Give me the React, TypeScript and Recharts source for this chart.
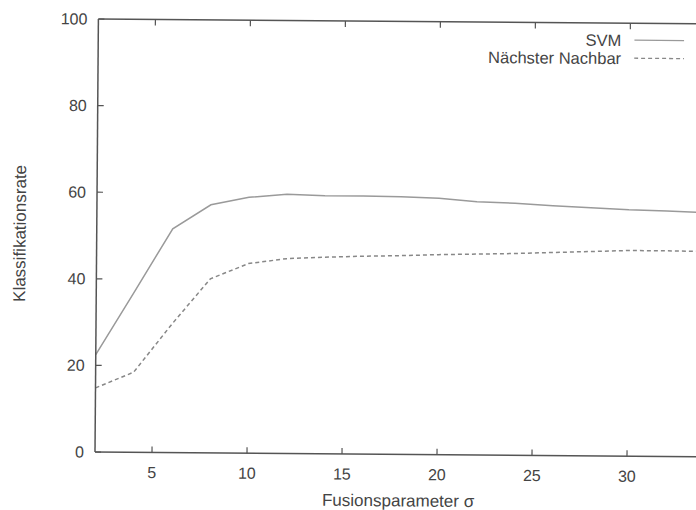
import { Label, Legend, Line, LineChart, ReferenceLine, XAxis, YAxis } from 'recharts';

const sigma = [2, 4, 6, 8, 10, 12, 14, 16, 18, 20, 22, 24, 26, 28, 30, 32, 34];
const svm = [22.5, 37, 51.7, 57.3, 59.1, 59.9, 59.6, 59.6, 59.5, 59.2, 58.5, 58.2, 57.7, 57.3, 56.9, 56.7, 56.4];
const nearest = [14.8, 18.5, 29.7, 40.2, 43.8, 45, 45.4, 45.7, 45.9, 46.2, 46.4, 46.6, 46.9, 47.2, 47.5, 47.5, 47.4];
const xTicks = [5, 10, 15, 20, 25, 30];
const yTicks = [0, 20, 40, 60, 80, 100];
const seriesOrder = ['svm', 'nn'];

const data = sigma.map((s, i) => ({ sigma: s, svm: svm[i], nn: nearest[i] }));

const AXIS = '#555';
const TEXT = '#444';
const PLOT_LEFT = 95;
const PLOT_TOP = 19;
const PLOT_BOTTOM = 452;

const seriesStyle: Record<string, { stroke: string; dash?: string }> = {
  svm: { stroke: '#9a9a9a' },
  nn: { stroke: '#888', dash: '4 3' },
};

function XTick({ x, payload }: any) {
  return (
    <g>
      <line x1={x} x2={x} y1={PLOT_BOTTOM} y2={PLOT_BOTTOM - 6} stroke={AXIS} strokeWidth={1.2} />
      <line x1={x} x2={x} y1={PLOT_TOP} y2={PLOT_TOP + 6} stroke={AXIS} strokeWidth={1.2} />
      <text x={x} y={PLOT_BOTTOM + 20} dy="0.35em" textAnchor="middle" fontSize={16} fill={TEXT}>
        {payload.value}
      </text>
    </g>
  );
}

function YTick({ y, payload }: any) {
  return (
    <g>
      <line x1={PLOT_LEFT} x2={PLOT_LEFT + 6} y1={y} y2={y} stroke={AXIS} strokeWidth={1.2} />
      <text x={PLOT_LEFT - 11} y={y} dy="0.35em" textAnchor="end" fontSize={16} fill={TEXT}>
        {payload.value}
      </text>
    </g>
  );
}

function LegendBox({ payload }: any) {
  const items = [...(payload || [])].sort(
    (a: any, b: any) => seriesOrder.indexOf(a.dataKey) - seriesOrder.indexOf(b.dataKey),
  );
  return (
    <div style={{ fontSize: 16.5, color: TEXT }}>
      {items.map((item: any) => {
        const st = seriesStyle[item.dataKey] || { stroke: '#888' };
        return (
          <div
            key={item.value}
            style={{ display: 'flex', justifyContent: 'flex-end', alignItems: 'center', height: 18 }}
          >
            <span style={{ lineHeight: '18px' }}>{item.value}</span>
            <svg width={50} height={6} style={{ marginLeft: 13 }}>
              <line x1={0} x2={50} y1={3} y2={3} stroke={st.stroke} strokeWidth={1.3} strokeDasharray={st.dash} />
            </svg>
          </div>
        );
      })}
    </div>
  );
}

export default function App() {
  return (
    <div
      style={{
        position: 'absolute',
        left: 0,
        top: 0,
        width: 696,
        height: 510,
        overflow: 'hidden',
        background: '#fff',
        fontFamily: '"Liberation Sans", Arial, sans-serif',
      }}
    >
      <div style={{ transform: 'rotate(0.45deg)', transformOrigin: '95px 452px', width: 732, height: 510 }}>
        <LineChart width={732} height={510} data={data} margin={{ top: 19, right: 10, left: 0, bottom: 0 }}>
          <XAxis
            dataKey="sigma"
            type="number"
            domain={[2, 35]}
            ticks={xTicks}
            height={58}
            stroke={AXIS}
            strokeWidth={1.5}
            tickLine={false}
            tick={<XTick />}
            interval={0}
          >
            <Label
              content={({ viewBox }: any) => (
                <text
                  x={viewBox.x + viewBox.width / 2 - 10}
                  y={viewBox.y + 52}
                  textAnchor="middle"
                  fontSize={17}
                  fill={TEXT}
                >
                  Fusionsparameter σ
                </text>
              )}
            />
          </XAxis>
          <YAxis
            type="number"
            domain={[0, 100]}
            ticks={yTicks}
            width={95}
            stroke={AXIS}
            strokeWidth={1.5}
            tickLine={false}
            tick={<YTick />}
            interval={0}
          >
            <Label
              content={() => (
                <text
                  x={18}
                  y={234}
                  transform="rotate(-90, 18, 234)"
                  textAnchor="middle"
                  dy="0.35em"
                  fontSize={17}
                  fill={TEXT}
                >
                  Klassifikationsrate
                </text>
              )}
            />
          </YAxis>
          <ReferenceLine y={100} stroke={AXIS} strokeWidth={1.5} />
          <Legend
            layout="vertical"
            verticalAlign="middle"
            align="center"
            content={<LegendBox />}
            wrapperStyle={{ top: 27, left: 380, width: 301, height: 'auto' }}
          />
          <Line
            dataKey="svm"
            name="SVM"
            type="linear"
            stroke={seriesStyle.svm.stroke}
            strokeWidth={1.5}
            dot={false}
            isAnimationActive={false}
          />
          <Line
            dataKey="nn"
            name="Nächster Nachbar"
            type="linear"
            stroke={seriesStyle.nn.stroke}
            strokeWidth={1.5}
            strokeDasharray={seriesStyle.nn.dash}
            dot={false}
            isAnimationActive={false}
          />
        </LineChart>
      </div>
    </div>
  );
}
